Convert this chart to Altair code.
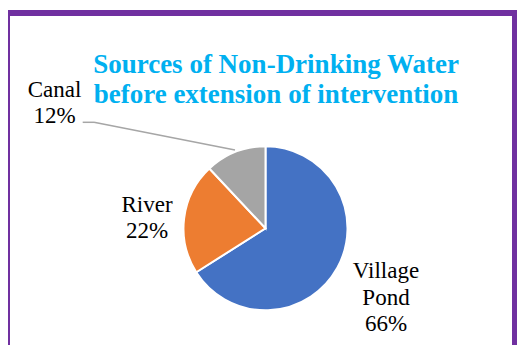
import altair as alt
import pandas as pd

categories = ["Village Pond", "River", "Canal"]
label_lines = ["Village\nPond", "River", "Canal"]
values = [66, 22, 12]
colors = ["#4472C4", "#ED7D31", "#A5A5A5"]
title_lines = ["Sources of Non-Drinking Water", "before extension of intervention"]

df = pd.DataFrame({
    "category": categories,
    "label": label_lines,
    "value": values,
    "order": list(range(len(categories))),
})

W, H = 509, 337
CX, CY, R = 257.5, 220.3, 82
FONT = "Times New Roman"

base = alt.Chart(df)

pie = base.mark_arc(stroke="white", strokeWidth=2, radius=R).encode(
    theta=alt.Theta("value:Q", stack=True),
    color=alt.Color("category:N", scale=alt.Scale(domain=categories, range=colors), legend=None),
    order=alt.Order("order:Q"),
    x=alt.value(CX),
    y=alt.value(CY),
)

def label_layer(cat, x, y, lh):
    return base.transform_filter(alt.datum.category == cat).transform_calculate(
        txt="datum.label + '\\n' + datum.value + '%'"
    ).mark_text(
        font=FONT, fontSize=23, color="black", align="center", baseline="alphabetic",
        lineBreak="\n", lineHeight=lh,
    ).encode(text="txt:N", x=alt.value(x), y=alt.value(y))

lab_vp = label_layer("Village Pond", 378, 270.3, 26.5)
lab_r = label_layer("River", 139, 203.7, 26.6)
lab_c = label_layer("Canal", 46.5, 88.7, 26)

one = alt.Chart(alt.Data(values=[{"k": 0}]))

title = one.mark_text(
    font=FONT, fontSize=27, fontWeight="bold", color="#00B0F0", align="center",
    baseline="alphabetic", lineHeight=30,
).encode(text=alt.value(title_lines), x=alt.value(268), y=alt.value(65))

lead1 = one.mark_rule(color="#A6A6A6", strokeWidth=1.5).encode(
    x=alt.value(74.7), y=alt.value(114.3), x2=alt.value(86), y2=alt.value(114.3))
lead2 = one.mark_rule(color="#A6A6A6", strokeWidth=1.5).encode(
    x=alt.value(86), y=alt.value(114.3), x2=alt.value(227), y2=alt.value(142))

border = one.mark_rect(fill="transparent", stroke="#7030A0", strokeWidth=6).encode(
    x=alt.value(-1), y=alt.value(5), x2=alt.value(507), y2=alt.value(360))

chart = alt.layer(border, pie, lead1, lead2, lab_vp, lab_r, lab_c, title).properties(
    width=W, height=H, padding=0, autosize=alt.AutoSizeParams(type="none"),
    background="white",
).configure_view(stroke=None)

chart.save("out.html", embed_options={"renderer": "svg", "actions": False})
